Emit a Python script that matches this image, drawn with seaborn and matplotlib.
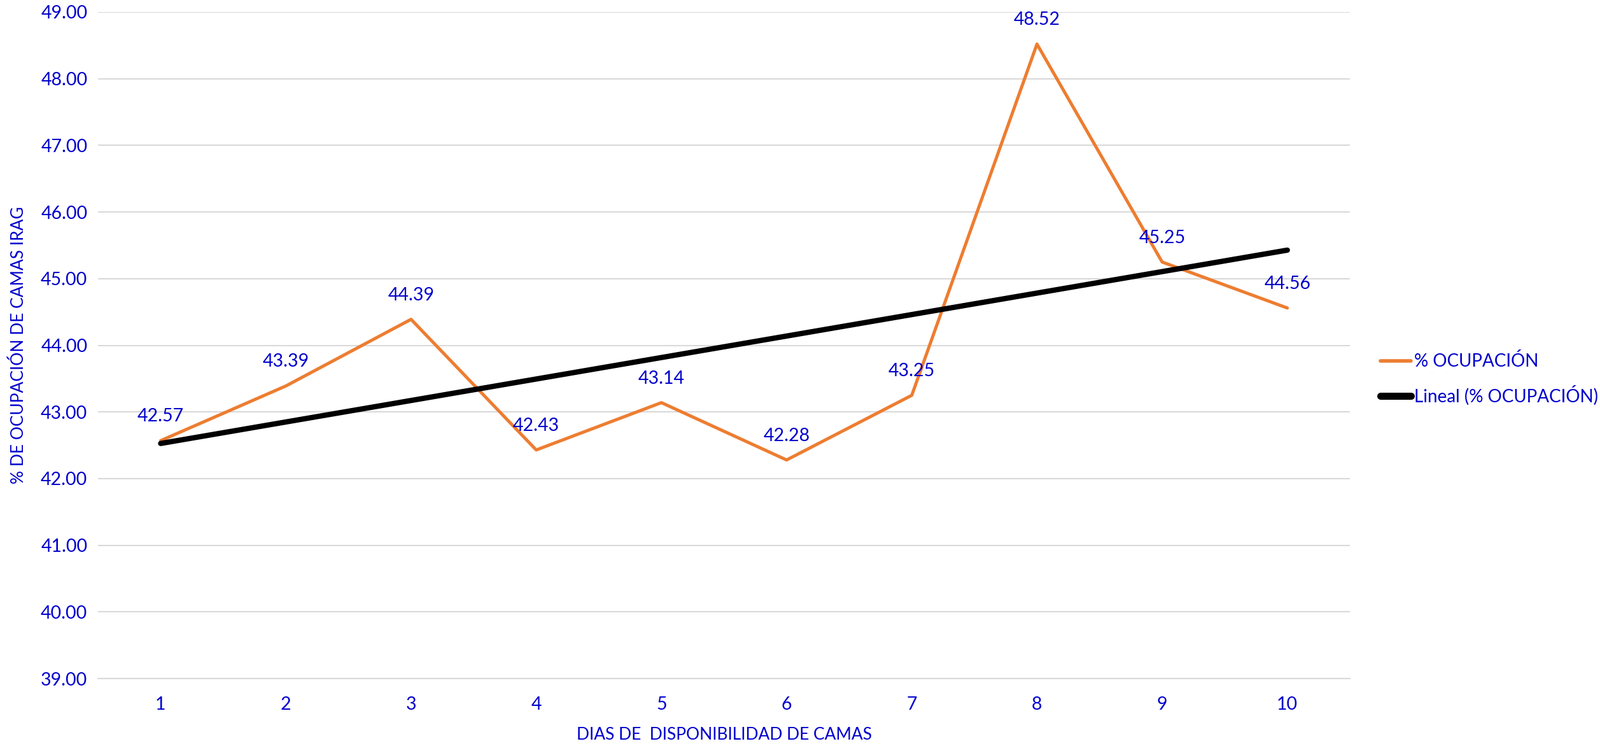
import numpy as np
import pandas as pd
import matplotlib
matplotlib.use("Agg")
import matplotlib.pyplot as plt
import seaborn as sns

# data
dias = [1, 2, 3, 4, 5, 6, 7, 8, 9, 10]
ocupacion = [42.57, 43.39, 44.39, 42.43, 43.14, 42.28, 43.25, 48.52, 45.25, 44.56]
y_ticks = [39, 40, 41, 42, 43, 44, 45, 46, 47, 48, 49]

BLUE = "#0000CC"
ORANGE = "#ED7D31"
GRID = "#D9D9D9"

sns.set_style("white")
plt.rcParams['font.family'] = ['Lato', 'DejaVu Sans']

df = pd.DataFrame({"dia": dias, "ocupacion": ocupacion})

fig = plt.figure(figsize=(25.14, 11.72), dpi=100)
ax = fig.add_axes([0.0613, 0.0904, 0.7824, 0.8934])

sns.lineplot(data=df, x="dia", y="ocupacion", ax=ax, color=ORANGE,
             linewidth=3.6, label="% OCUPACIÓN", zorder=3)
sns.regplot(data=df, x="dia", y="ocupacion", ax=ax, scatter=False, ci=None,
            truncate=True, color="black", label="Lineal (% OCUPACIÓN)",
            line_kws={"linewidth": 6, "solid_capstyle": "round", "zorder": 4})

for x, y in zip(dias, ocupacion):
    ax.annotate(f"{y:.2f}", (x, y), xytext=(0, 38), textcoords="offset pixels",
                ha="center", va="center", color=BLUE, fontsize=20.5, zorder=5)

ax.set_xlim(0.5, 10.5)
ax.set_ylim(39, 49)
ax.set_yticks(y_ticks)
ax.set_yticklabels([f"{v:.2f}" for v in y_ticks])
ax.set_xticks(dias)
ax.set_xticklabels([str(d) for d in dias])
ax.set_xticks(np.arange(0.5, 11, 1), minor=True)

ax.grid(axis="y", color=GRID, linewidth=1.5)
ax.set_axisbelow(True)
for side in ["top", "right", "left"]:
    ax.spines[side].set_visible(False)
ax.spines["bottom"].set_color(GRID)
ax.spines["bottom"].set_linewidth(1.5)

ax.tick_params(axis="both", which="major", length=0, labelsize=20.5, labelcolor=BLUE)
ax.tick_params(axis="x", which="major", pad=20)
ax.tick_params(axis="y", which="major", pad=12)
ax.tick_params(axis="x", which="minor", length=16, width=1.5, color=GRID)

ax.set_xlabel("DIAS DE  DISPONIBILIDAD DE CAMAS", color=BLUE, fontsize=19)
ax.set_ylabel("% DE OCUPACIÓN DE CAMAS IRAG", color=BLUE, fontsize=19)
ax.xaxis.label.set_va("center")
ax.yaxis.label.set_va("center")
ax.xaxis.set_label_coords(0.5, -0.084)
ax.yaxis.set_label_coords(-0.0635, 0.5)

leg = ax.legend(loc="center left", bbox_to_anchor=(0.853, 0.492),
                bbox_transform=fig.transFigure, frameon=False, fontsize=20,
                handlelength=1.7, handletextpad=0.2, labelspacing=0.85)
for t in leg.get_texts():
    t.set_color(BLUE)
leg.get_lines()[0].set_linewidth(4)
leg.get_lines()[1].set_linewidth(8)

fig.savefig("out.png", dpi=100)
